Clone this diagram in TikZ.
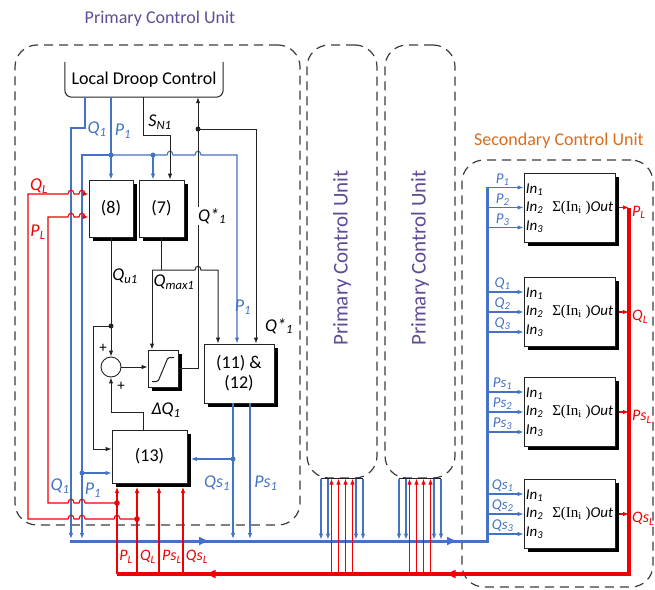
\documentclass[tikz,border=0pt]{standalone}
\usepackage{fontspec}
\setmainfont{Carlito}
\newfontfamily\seriffam{Liberation Serif}
\usetikzlibrary{arrows.meta,shadows,decorations.markings,calc}
\definecolor{bl}{RGB}{68,114,196}
\definecolor{rd}{RGB}{240,0,0}
\definecolor{dk}{RGB}{35,35,35}
\definecolor{dsh}{RGB}{60,60,60}
\definecolor{pur}{RGB}{96,76,148}
\definecolor{org}{RGB}{214,110,30}
\newcommand\lab[2]{\textit{#1}\textsubscript{\textit{#2}}}
\begin{document}
\begin{tikzpicture}[x=1pt,y=-1pt,
  font=\fontsize{18}{20}\selectfont,
  >={Latex[length=6pt,width=4.5pt]},
  bln/.style={draw=bl,line width=1.1pt},
  rln/.style={draw=rd,line width=1.1pt},
  kln/.style={draw=dk,line width=1pt},
  blk/.style={draw=dk,line width=0.8pt,fill=white,inner sep=0pt,
    general shadow={fill=black,shadow xshift=3.5pt,shadow yshift=-3.5pt}},
  dashbox/.style={draw=dsh,line width=1.2pt,dash pattern=on 9pt off 6pt,rounded corners=22pt},
  small/.style={font=\fontsize{15}{17}\selectfont},
  bt/.style={text=bl},
  rt/.style={text=rd}]
\useasboundingbox (0,0) rectangle (655,589);

% containers
\node[dashbox,minimum width=285pt,minimum height=480pt] (pcu1) at (157.5,285) {};
\node[dashbox,minimum width=70pt,minimum height=433pt] (pcu2) at (342,261.5) {};
\node[dashbox,minimum width=70pt,minimum height=433pt] (pcu3) at (420,261.5) {};
\node[dashbox,minimum width=191pt,minimum height=427pt] (scu) at (557.5,373.5) {};

\node[text=pur] (t1) at (160,19) {Primary Control Unit};
\node[text=org] (t2) at (559,141) {Secondary Control Unit};
\node[text=pur,rotate=90,font=\fontsize{21}{24}\selectfont] (t3) at (342,258) {Primary Control Unit};
\node[text=pur,rotate=90,font=\fontsize{21}{24}\selectfont] (t4) at (420,258) {Primary Control Unit};

% buses
\coordinate (bus0) at (70,541);
\coordinate (bus1) at (487,541);
\coordinate (bus2) at (487,187);
\draw[bl,line width=3pt,postaction={decorate},decoration={markings,
  mark=at position 140pt with {\arrow{Latex[length=11pt,width=9pt]}},
  mark=at position 388pt with {\arrow{Latex[length=11pt,width=9pt]}}}]
  (bus0) -- (bus1) -- (bus2);

% tall unit ports
\foreach \u in {pcu2,pcu3}{
  \foreach \dx in {-21,-14,14,21}
    \draw[bln,->] ($(\u.south)+(\dx,0)$) -- ($(\u.south)+(\dx,61)$);
}

% secondary blocks
\foreach \yc/\s [count=\i] in {207.5/P,312/Q,412/Ps,514/Qs}{
  \node[blk,minimum width=91pt,minimum height=69pt] (sb\i) at (569.5,\yc) {};
  \foreach \j/\n in {-20/1,0/2,20/3}{
    \draw[bln,->] ($(bus1|-sb\i.west)+(0,\j)$) -- ($(sb\i.west)+(0,\j)$);
    \node[bt,small,inner sep=0pt] (lb\i\n) at ($(sb\i.west)+(-21,\j-8)$) {\lab{\s}{\n}};
  }
  \node[small,anchor=west,inner sep=1pt] (ia\i) at ($(sb\i.west)+(1,-18)$) {\lab{In}{1}};
  \node[small,anchor=west,inner sep=1pt] (ib\i) at ($(sb\i.west)+(1,0)$) {\lab{In}{2}};
  \node[small,anchor=west,inner sep=1pt] (ic\i) at ($(sb\i.west)+(1,19)$) {\lab{In}{3}};
  \node[small,anchor=east,inner sep=1pt] (sg\i) at ($(sb\i.east)+(-1,0)$) {{\seriffam Σ(In\textsubscript{i} )}\textit{Out}};
  \node[rt,anchor=west,inner sep=0pt,font=\fontsize{16}{18}\selectfont] (ol\i) at (632,\yc+5) {\lab{\s}{L}};
}

% red bus
\coordinate (rb0) at (629,207.5);
\coordinate (rb1) at (629,574);
\coordinate (rb2) at (117,574);
\foreach \i in {1,2,3,4}
  \draw[rln,->] ($(sb\i.east)+(3.5,0)$) -- (rb0|-sb\i.east);
\draw[rd,line width=3.5pt,postaction={decorate},decoration={markings,
  mark=at position 551pt with {\arrow{Latex[length=11pt,width=9pt]}},
  mark=at position 791pt with {\arrow{Latex[length=11pt,width=9pt]}}}]
  (rb0) -- (rb1) -- (rb2);

\foreach \u in {pcu2,pcu3}{
  \draw[kln] ($(\u.south)+(-21,0)$) -- ($(\u.south)+(21,0)$);
  \foreach \dx in {-10.5,-3.5,3.5,10.5}
    \draw[rln,->] ($(\u.south)+(\dx,96)$) -- ($(\u.south)+(\dx,0)$);
}

% left unit blocks
\node[minimum width=158pt,minimum height=35pt,inner sep=0pt] (ldc) at (144,79.5) {Local Droop Control};
\draw[kln,rounded corners=7pt] (ldc.north west) -- (ldc.south west) -- (ldc.south east) -- (ldc.north east);
\node[blk,minimum width=44pt,minimum height=57pt] (b8) at (111,208.5) {(8)};
\node[blk,minimum width=45pt,minimum height=57pt] (b7) at (161.5,208.5) {(7)};
\node[blk,minimum width=70pt,minimum height=59pt,align=center] (b11) at (239,373.5) {(11) \&\\(12)};
\node[blk,minimum width=75pt,minimum height=53pt] (b13) at (149.5,456.5) {(13)};
\node[draw=dk,line width=0.9pt,circle,minimum size=20pt,inner sep=0pt] (sum) at (111,367) {};
\node[blk,minimum width=30pt,minimum height=37pt] (lim) at (163,368.5) {};
\draw[kln,rounded corners=1.5pt] ($(lim)+(-11,13)$) -- ($(lim)+(-5,13)$) -- ($(lim)+(5,-11)$) -- ($(lim)+(11,-11)$);
\node[small] (pl1) at (103,348) {+};
\node[small] (pl2) at (121,386) {+};

% Q1 from droop control
\coordinate (q1a) at (85,128);
\coordinate (q1b) at (71,128);
\coordinate (q1c) at (71,539);
\draw[bln,->] (ldc.south -| q1a) -- (q1a) -- (q1b) -- (q1c);
\node[bt] (lq1) at (97,129) {\lab{Q}{1}};

% P1
\coordinate (jp1) at (111,155);
\coordinate (jp2) at (153,155);
\coordinate (jpL) at (82,155);
\coordinate (jpR) at (237,155);
\coordinate (jpB) at (82,539);
\draw[bln,->] (ldc.south -| jp1) -- (jp1) -- (b8.north);
\draw[bln,->] (jp2) -- (b7.north -| jp2);
\draw[bln,->] (jp1) -- (jpL) -- (jpB);
\draw[bln,->] (jp1) -- (jp2) -- (167,155) .. controls +(0,-5) and +(0,-5) .. (173,155)
  -- (195,155) .. controls +(0,-5) and +(0,-5) .. (201,155) -- (jpR) -- (b11.north -| jpR);
\fill[bl] (jp1) circle (2.5pt) (jp2) circle (2.5pt);
\node[bt] (lp1) at (123,131) {\lab{P}{1}};
\node[bt] (lp1b) at (243,307) {\lab{P}{1}};

% SN1
\coordinate (sn1) at (143,135);
\coordinate (sn2) at (170,135);
\draw[kln,->] (ldc.south -| sn1) -- (sn1) -- (sn2) -- (b7.north -| sn2);
\node (lsn) at (160,122) {\lab{S}{N1}};

% Q* feedback
\coordinate (qsd) at (198,129);
\coordinate (qsr) at (256,129);
\draw[kln,->] (lim.east) -- (lim.east -| qsd) -- (ldc.south -| qsd);
\draw[kln,->] (qsd) -- (qsr) -- (b11.north -| qsr);
\fill[dk] (qsd) circle (2.5pt);
\node[fill=white,inner sep=1pt] (lqs) at (212,216) {\textit{Q*}\textsubscript{\textit{1}}};
\node (lqs2) at (279,326) {\textit{Q*}\textsubscript{\textit{1}}};

% Qmax
\coordinate (qmL) at (152,270);
\coordinate (qmR) at (218,270);
\draw[kln] (b7.south) -- (b7.south |- qmL);
\draw[kln,->] (qmL) -- (lim.north -| qmL);
\draw[kln,->] (qmL) -- (195,270) .. controls +(0,-5) and +(0,-5) .. (201,270) -- (qmR) -- (b11.north -| qmR);
\node (lqm) at (174,282) {\lab{Q}{max1}};

% Qu1
\coordinate (ju) at (111,326);
\coordinate (jul) at (93,326);
\coordinate (k1) at (93,449);
\draw[kln] (b8.south) -- (ju);
\draw[kln,->] (ju) -- (sum.north);
\draw[kln,->] (ju) -- (jul) -- (k1) -- (k1 -| b13.west);
\fill[dk] (ju) circle (2.5pt);
\node (lqu) at (125,276) {\lab{Q}{u1}};

\draw[kln,->] (sum.east) -- (lim.west |- sum.east);

% Delta Q
\coordinate (dq1) at (143,412);
\coordinate (dq0) at (111,412);
\draw[kln,->] (b13.north -| dq1) -- (dq1) -- (dq0) -- (sum.south);
\node (ldq) at (166,410) {\textit{ΔQ}\textsubscript{\textit{1}}};

% Qs1, Ps1
\coordinate (jqs) at (233,459);
\coordinate (qsB) at (233,539);
\coordinate (psB) at (250,539);
\draw[bln,->] (b11.south -| jqs) -- (qsB);
\draw[bln,->] (jqs) -- ($(jqs -| b13.east)+(3.5,0)$);
\draw[bln,->] (b11.south -| psB) -- (psB);
\fill[bl] (jqs) circle (2.5pt);
\node[bt] (lqs1) at (217,483) {\lab{Qs}{1}};
\node[bt] (lps1) at (266,483) {\lab{Ps}{1}};

% P1 into (13)
\coordinate (jp13) at (82,473);
\draw[bln,->] (jp13) -- (jp13 -| b13.west);
\fill[bl] (jp13) circle (2.5pt);
\node[bt] (lq1b) at (60,486) {\lab{Q}{1}};
\node[bt] (lp1c) at (93,490) {\lab{P}{1}};

% red signals into (13)
\foreach \x/\nm in {117/rv1,137/rv2,159/rv3,183/rv4}{
  \coordinate (\nm) at (\x,574);
  \draw[rln,->] (\nm) -- ($(\nm |- b13.south)+(0,3.5)$);
}
\coordinate (jPL) at (117,503);
\coordinate (jQL) at (137,519);
\draw[rln,->] (jPL) -- (85,503) .. controls +(0,-5) and +(0,-5) .. (79,503) -- (74,503)
  .. controls +(0,-5) and +(0,-5) .. (68,503) -- (48,503) -- (48,217) -- (68,217)
  .. controls +(0,-5) and +(0,-5) .. (74,217) -- (79,217) .. controls +(0,-5) and +(0,-5) .. (85,217)
  -- (b8.west |- 0,217);
\draw[rln,->] (jQL) -- (120,519) .. controls +(0,-5) and +(0,-5) .. (114,519) -- (85,519)
  .. controls +(0,-5) and +(0,-5) .. (79,519) -- (74,519) .. controls +(0,-5) and +(0,-5) .. (68,519)
  -- (28,519) -- (28,194) -- (68,194) .. controls +(0,-5) and +(0,-5) .. (74,194) -- (79,194)
  .. controls +(0,-5) and +(0,-5) .. (85,194) -- (b8.west |- 0,194);
\fill[rd] (jPL) circle (2.8pt) (jQL) circle (2.8pt);
\node[rt] (lql) at (39,186) {\lab{Q}{L}};
\node[rt] (lpl) at (38,232) {\lab{P}{L}};
\node[rt,font=\fontsize{16}{18}\selectfont] (bl1) at (126,557) {\lab{P}{L}};
\node[rt,font=\fontsize{16}{18}\selectfont] (bl2) at (148,557) {\lab{Q}{L}};
\node[rt,font=\fontsize{16}{18}\selectfont] (bl3) at (172,557) {\lab{Ps}{L}};
\node[rt,font=\fontsize{16}{18}\selectfont] (bl4) at (197,557) {\lab{Qs}{L}};
\end{tikzpicture}
\end{document}
